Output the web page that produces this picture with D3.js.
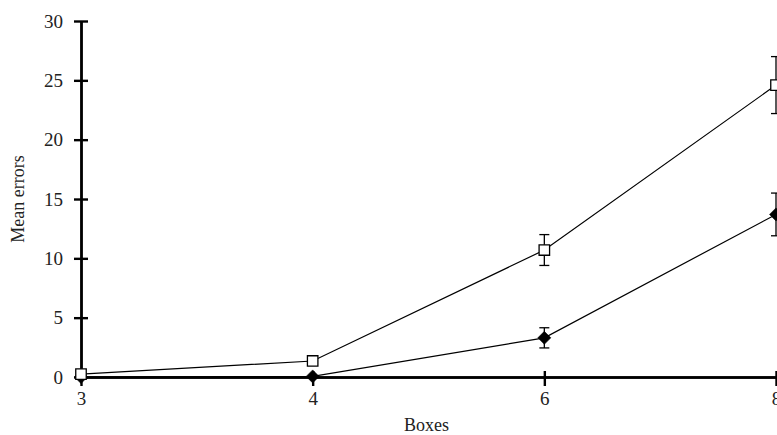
<!DOCTYPE html>
<html><head><meta charset="utf-8">
<script src="https://cdn.jsdelivr.net/npm/d3@7"></script>
<style>
body{margin:0;background:#fff;}
svg{display:block;}
text{font-family:"Liberation Serif","Times New Roman",serif;}
</style></head>
<body>
<svg id="chart" width="777" height="435"></svg>
<script>
const boxes = ["3", "4", "6", "8"];
const yTicks = [0, 5, 10, 15, 20, 25, 30];
const squareMeans = [0.25, 1.35, 10.7, 24.6];
const squareErr = [0, 0, 1.3, 2.4];
const diamondMeans = [0, 0.05, 3.3, 13.7];
const diamondErr = [0, 0, 0.85, 1.8];

const svg = d3.select("#chart");
const x = d3.scalePoint().domain(boxes).range([81, 776]);
const y = d3.scaleLinear().domain([0, 30]).range([377, 21]);
const fs = "19px";

// Y axis (ticks crossing both sides)
const yl = svg.append("g").attr("transform", "translate(81,0)")
  .call(d3.axisLeft(y).tickValues(yTicks).tickSize(7).tickPadding(11).tickSizeOuter(0));
const yr = svg.append("g").attr("transform", "translate(81,0)")
  .call(d3.axisRight(y).tickValues(yTicks).tickSize(7).tickFormat("").tickSizeOuter(0));
// X axis
const xb = svg.append("g").attr("transform", "translate(0,377)")
  .call(d3.axisBottom(x).tickSize(9).tickPadding(6).tickSizeOuter(0));
const xt = svg.append("g").attr("transform", "translate(0,377)")
  .call(d3.axisTop(x).tickSize(6).tickFormat("").tickSizeOuter(0));
[yl, yr, xb, xt].forEach(g => {
  g.selectAll("path.domain").attr("stroke", "#000").attr("stroke-width", 2.4);
  g.selectAll(".tick line").attr("stroke", "#000").attr("stroke-width", 2.4);
  g.selectAll("text").attr("font-size", fs).attr("fill", "#222")
    .attr("font-family", "'Liberation Serif','Times New Roman',serif");
});

// Axis titles
svg.append("text").attr("x", x("4") + (x("6") - x("4")) / 2 - 2).attr("y", 431)
  .attr("text-anchor", "middle").attr("font-size", "18px").attr("fill", "#222").text("Boxes");
svg.append("text").attr("transform", "translate(24," + y(15) + ") rotate(-90)")
  .attr("text-anchor", "middle").attr("font-size", "18px").attr("fill", "#222").text("Mean errors");

function series(means, errs, kind) {
  const pts = boxes.map((b, i) => ({ b, v: means[i], e: errs[i] }));
  svg.append("path").datum(pts)
    .attr("fill", "none").attr("stroke", "#000").attr("stroke-width", 1.2)
    .attr("d", d3.line().x(d => x(d.b)).y(d => y(d.v)));
  const eb = svg.append("g");
  pts.filter(d => d.e > 0).forEach(d => {
    const cx = x(d.b);
    eb.append("line").attr("x1", cx).attr("x2", cx).attr("y1", y(d.v - d.e)).attr("y2", y(d.v + d.e))
      .attr("stroke", "#000").attr("stroke-width", 1.3);
    [d.v - d.e, d.v + d.e].forEach(v => {
      eb.append("line").attr("x1", cx - 5).attr("x2", cx + 5).attr("y1", y(v)).attr("y2", y(v))
        .attr("stroke", "#000").attr("stroke-width", 1.3);
    });
  });
  const size = kind === "square" ? 110 : 85;
  const rot = kind === "square" ? 0 : 45;
  svg.append("g").selectAll("path").data(pts).join("path")
    .attr("transform", d => `translate(${x(d.b)},${y(d.v)}) rotate(${rot})`)
    .attr("d", d3.symbol().type(d3.symbolSquare).size(size))
    .attr("fill", kind === "square" ? "#fff" : "#000")
    .attr("stroke", "#000").attr("stroke-width", kind === "square" ? 1.3 : 0.5);
}
series(diamondMeans, diamondErr, "diamond");
series(squareMeans, squareErr, "square");
</script>
</body></html>
